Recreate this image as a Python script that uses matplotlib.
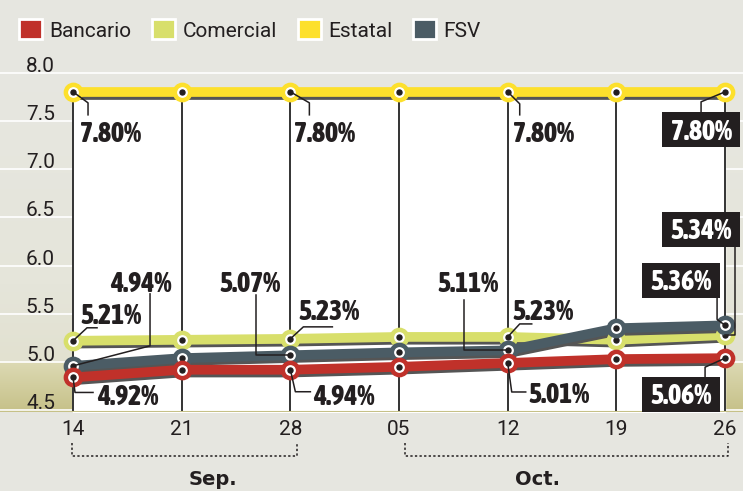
import numpy as np
import matplotlib
matplotlib.use("Agg")
import matplotlib.pyplot as plt
import matplotlib.patheffects as pe
from matplotlib import font_manager as fm
from matplotlib.colors import to_rgb
from matplotlib.patches import Patch, Rectangle
from matplotlib.textpath import TextPath
from matplotlib.transforms import IdentityTransform, blended_transform_factory

# --- data ---
dates = ["14", "21", "28", "05", "12", "19", "26"]
months = ["Sep.", "Oct."]
month_spans = [(0, 2), (3, 6)]
series_names = ["Bancario", "Comercial", "Estatal", "FSV"]

bancario = [4.84, 4.92, 4.92, 4.95, 4.99, 5.03, 5.04]
comercial = [5.22, 5.23, 5.24, 5.26, 5.26, 5.23, 5.28]
estatal = [7.80, 7.80, 7.80, 7.80, 7.80, 7.80, 7.80]
fsv = [4.96, 5.04, 5.07, 5.10, 5.12, 5.35, 5.38]

bancario_labels = {0: "4.92%", 2: "4.94%", 4: "5.01%", 6: "5.06%"}
comercial_labels = {0: "5.21%", 2: "5.23%", 4: "5.23%", 6: "5.34%"}
estatal_labels = {0: "7.80%", 2: "7.80%", 4: "7.80%", 6: "7.80%"}
fsv_labels = {0: "4.94%", 2: "5.07%", 4: "5.11%", 6: "5.36%"}

yticks = [4.5, 5.0, 5.5, 6.0, 6.5, 7.0, 7.5, 8.0]


# --- fonts: a heavy condensed face for the value labels, else Roboto ---
def pick_condensed(weight_pref):
    best, best_score = None, None
    for f in fm.fontManager.ttflist:
        fn = f.fname.lower()
        if f.style != "normal" or "italic" in fn:
            continue
        cond = "condensed" in str(f.stretch) or "condensed" in fn or "narrow" in fn
        if not cond:
            continue
        w = f.weight if isinstance(f.weight, int) else fm.weight_dict.get(f.weight, 400)
        extra = "extra" in fn or "extra" in str(f.stretch) or "ultra" in fn
        score = abs(w - weight_pref) + (0 if extra else 5)
        if best_score is None or score < best_score:
            best, best_score = f, score
    return best


f_bold = pick_condensed(850)
label_prop = fm.FontProperties(fname=f_bold.fname) if f_bold else fm.FontProperties(family="Roboto", weight="black")
tick_prop = fm.FontProperties(family="Roboto")
SANS = "Roboto"


def fit_size(text, prop, target_px, max_pt):
    w = TextPath((0, 0), text, size=max_pt * 100 / 72, prop=prop).get_extents().width
    return max_pt * min(1.0, target_px / w)


lab_size = fit_size("7.80%", label_prop, 64, 20)

BG = "#e6e6e0"
INK = "#231f20"
colors = {"Bancario": "#c0312a", "Comercial": "#d8df6b",
          "Estatal": "#fde02c", "FSV": "#4b5c65"}

# label layout: index -> (text offset px, leader offsets px, boxed)
layout = {
    "Estatal": {0: ((7, -40), [(0, 0), (15, -11), (15, -23)], False),
                2: ((4, -40), [(0, 0), (19, -11), (19, -23)], False),
                4: ((5, -40), [(0, 0), (12, -12), (12, -23)], False),
                6: ((-24, -38), [(0, 0), (-24, -10), (-24, -21)], True)},
    "Comercial": {0: ((7, 27), [(0, 0), (14, 13), (24, 13)], False),
                  2: ((8, 29), [(0, 0), (13, 12), (42, 12)], False),
                  4: ((5, 27), [(0, 0), (12, 13), (24, 13)], False),
                  6: ((-24, 106), [(0, 0), (10, 0), (10, 89)], True)},
    "FSV": {0: ((37, 84), [(0, 0), (77, 20), (77, 72)], False),
            2: ((-71, 73), [(0, 0), (-34, 0), (-34, 60)], False),
            4: ((-70, 68), [(0, 0), (-44, 0), (-44, 50)], False),
            6: ((-44, 45), [(0, 0), (-8, 6), (-8, 27)], True)},
    "Bancario": {0: ((24, -18), [(0, 0), (2, -15), (20, -15)], False),
                 2: ((23, -25), [(0, 0), (5, -22), (20, -22)], False),
                 4: ((21, -30), [(0, 0), (4, -29), (18, -29)], False),
                 6: ((-44, -36), [(0, 0), (-20, -9), (-20, -19)], True)},
}

fig = plt.figure(figsize=(7.43, 4.91), dpi=100, facecolor=BG)
ax = fig.add_axes([0, 79 / 491, 1, 352 / 491])
ax.set_facecolor(BG)
x = np.arange(len(dates))
x_lo, x_hi = -0.672, 6.165
y_lo, y_hi = 4.482, 8.13
ax.set_xlim(x_lo, x_hi)
ax.set_ylim(y_lo, y_hi)
for s in ax.spines.values():
    s.set_visible(False)

# background gradient (grey -> olive at the bottom)
stops = [(y_lo, "#c6c188"), (4.99, "#dcd9b3"), (5.01, "#e2e1d0"),
         (5.8, "#e5e5da"), (y_hi, "#e7e7e1")]
ys = np.linspace(y_lo, y_hi, 400)
cols = np.array([to_rgb(c) for _, c in stops])
pos = [p for p, _ in stops]
img = np.stack([np.interp(ys, pos, cols[:, k]) for k in range(3)], axis=-1)[:, None, :]
ax.imshow(img, extent=[x_lo, x_hi, y_lo, y_hi], origin="lower",
          aspect="auto", zorder=0, interpolation="bilinear")

ylab_tr = blended_transform_factory(ax.transAxes, ax.transData)
for yt in yticks:
    ax.axhline(yt, color="white", lw=1.2, zorder=1)
    ax.text(55 / 743, yt + 0.01, f"{yt:.1f}", transform=ylab_tr, ha="right",
            va="baseline", fontproperties=tick_prop, fontsize=15,
            color=INK, zorder=3)

# white panel under the Estatal line and date rules
ax.fill_between(x, y_lo, estatal, color="white", zorder=2)
ax.vlines(x, y_lo, estatal, color="#333333", lw=1.4, zorder=3)

series = {"Bancario": bancario, "Comercial": comercial,
          "Estatal": estatal, "FSV": fsv}
labels = {"Bancario": bancario_labels, "Comercial": comercial_labels,
          "Estatal": estatal_labels, "FSV": fsv_labels}

shadow = [pe.SimpleLineShadow(offset=(0, -2), shadow_color="#555555", alpha=1, rho=1),
          pe.Normal()]
for z, name in enumerate(["Estatal", "Comercial", "FSV", "Bancario"]):
    ax.plot(x, series[name], color=colors[name], lw=7, zorder=4 + z,
            path_effects=shadow, solid_capstyle="butt")
for name in ["Comercial", "FSV", "Bancario", "Estatal"]:
    ax.plot(x, series[name], "o", ms=11, mfc="white", mec=colors[name],
            mew=3.2, zorder=9)
    ax.plot(x, series[name], "o", ms=3.6, color=INK, zorder=9)

# value labels with leader lines
ident = IdentityTransform()
half_cap = lab_size * 100 / 72 * 0.36
for name in series_names:
    for i, txt in labels[name].items():
        (tx, ty), leader, boxed = layout[name][i]
        px, py = ax.transData.transform((x[i], series[name][i]))
        lx = [px + dx for dx, dy in leader]
        ly = [py + dy for dx, dy in leader]
        ax.plot(lx, ly, color=INK, lw=1.1, transform=ident, zorder=10, clip_on=False)
        if boxed:
            ax.add_patch(Rectangle((px + tx - 39, py + ty - 17.5), 78, 35,
                                   transform=ident, fc=INK, ec="none",
                                   zorder=11, clip_on=False))
            ax.text(px + tx, py + ty - half_cap, txt, transform=ident, ha="center",
                    va="baseline", fontproperties=label_prop, fontsize=lab_size,
                    color="white", zorder=12)
        else:
            ax.text(px + tx, py + ty - half_cap, txt, transform=ident, ha="left",
                    va="baseline", fontproperties=label_prop, fontsize=lab_size,
                    color=INK, zorder=12)

# x axis
ax.set_xticks(x, dates)
ax.set_yticks([])
ax.tick_params(axis="x", length=0, pad=6, labelcolor=INK)
for t in ax.get_xticklabels():
    t.set_fontproperties(tick_prop)
    t.set_fontsize(15)
ax.axhline(y_lo, color="#c6c188", lw=1.5, zorder=3)

# month brackets
btr = blended_transform_factory(ax.transData, ax.transAxes)
month_pos = [1.29, 4.27]
pads = [(-0.01, 0.06), (0.055, 0.03)]
for m, (a, b), (pa, pb), mx in zip(months, month_spans, pads, month_pos):
    ax.plot([a + pa, a + pa, b + pb, b + pb], [-0.088, -0.125, -0.125, -0.088],
            color=INK, lw=1.1, ls=(0, (1.5, 1.5)), transform=btr, clip_on=False)
    ax.text(mx, -0.207, m, transform=btr, ha="center", va="baseline",
            fontsize=14, fontweight="bold", family="DejaVu Sans", color=INK)

# legend
handles = [Patch(facecolor=colors[n], edgecolor="white", linewidth=2) for n in series_names]
fig.legend(handles, series_names, loc="center left", bbox_to_anchor=(19 / 743, 461 / 491),
           ncol=4, frameon=False, handlelength=1.1, handleheight=1.1,
           handletextpad=0.35, columnspacing=1.0, borderpad=0, borderaxespad=0,
           prop={"family": SANS, "size": 15}, labelcolor=INK)

fig.savefig("out.png", dpi=100, facecolor=BG)
